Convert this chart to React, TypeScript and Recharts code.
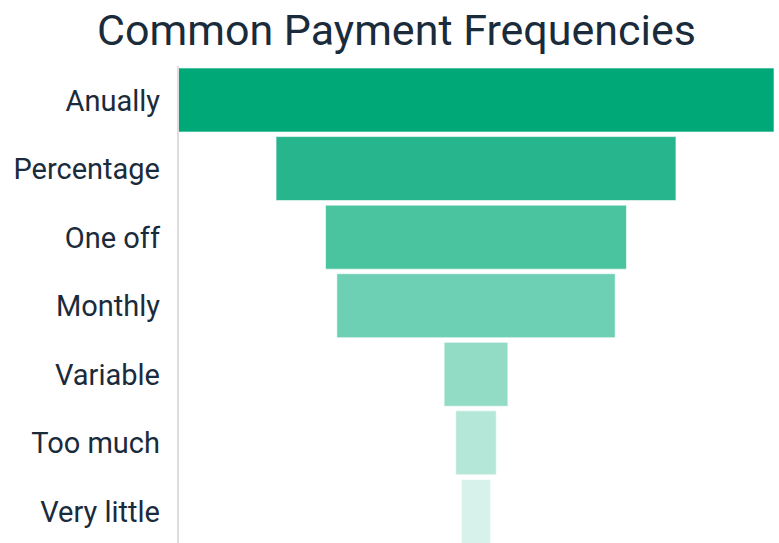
import { BarChart, Bar, XAxis, YAxis, Cell } from 'recharts'

const CATEGORIES = ['Anually', 'Percentage', 'One off', 'Monthly', 'Variable', 'Too much', 'Very little']
const VALUES = [100, 67.1, 50.5, 46.7, 10.7, 6.8, 4.9]
const COLORS = ['#00A878', '#26B58D', '#4AC39F', '#6DCFB3', '#92DCC6', '#B4E7D8', '#D7F2EA']

const MAX = Math.max(...VALUES)

// invisible offset pushes each bar to the middle, so the stack looks like a funnel
const data = CATEGORIES.map((name, i) => ({
  name,
  pad: (MAX - VALUES[i]) / 2,
  value: VALUES[i],
}))

const TEXT = '#1a2b3b'

export default function App() {
  return (
    <div style={{ position: 'absolute', left: 0, top: 0, width: 779, height: 543, overflow: 'hidden', background: '#fff', fontFamily: 'Roboto, sans-serif' }}>
      <div
        style={{
          position: 'absolute', left: 0, top: 9, width: 793,
          textAlign: 'center', fontSize: 43, lineHeight: '43px', color: TEXT,
        }}
      >
        Common Payment Frequencies
      </div>
      <div style={{ position: 'absolute', left: 0, top: 0 }}>
        <BarChart
          width={779}
          height={551}
          data={data}
          layout="vertical"
          margin={{ top: 66, right: 5, bottom: 5, left: 0 }}
          barSize={64}
        >
          <XAxis type="number" domain={[0, MAX]} hide />
          <YAxis
            type="category"
            dataKey="name"
            width={178}
            tickSize={0}
            tickMargin={18}
            axisLine={{ stroke: '#dddddd', strokeWidth: 2 }}
            tick={{ fontSize: 29, fill: TEXT, fontFamily: 'Roboto, sans-serif' }}
          />
          <Bar dataKey="pad" stackId="f" fill="transparent" isAnimationActive={false} />
          <Bar dataKey="value" stackId="f" stroke="#ffffff" strokeOpacity={0.6} strokeWidth={1} isAnimationActive={false}>
            {data.map((d, i) => (
              <Cell key={d.name} fill={COLORS[i]} />
            ))}
          </Bar>
        </BarChart>
      </div>
    </div>
  )
}
